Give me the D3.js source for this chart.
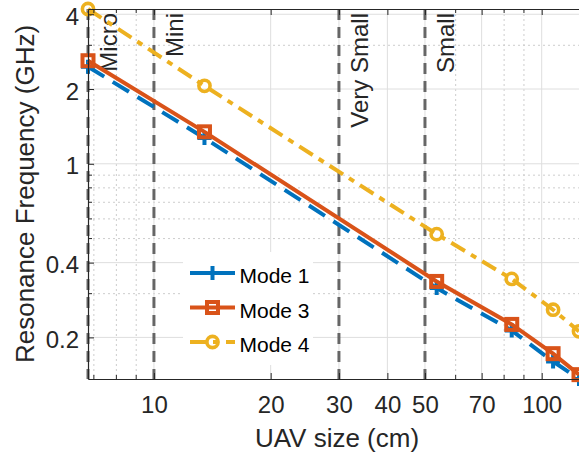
<!DOCTYPE html>
<html>
<head>
<meta charset="utf-8">
<script src="https://cdn.jsdelivr.net/npm/d3@7"></script>
<style>
  body { margin: 0; background: #fff; }
  svg { display: block; font-family: "Liberation Sans", Arial, Helvetica, sans-serif; }
</style>
</head>
<body>
<svg id="chart" width="579" height="455"></svg>
<script>
// UAV size (cm) at which each resonance was evaluated
const sizes = [6.76, 13.5, 53.6, 83.7, 107, 124.8];
// Resonance frequency (GHz) per mode
const mode1 = [2.46, 1.27, 0.316, 0.213, 0.160, 0.136];
const mode3 = [2.60, 1.345, 0.336, 0.2256, 0.172, 0.1416];
const mode4 = [4.20, 2.06, 0.521, 0.344, 0.2585, 0.2115];
const seriesNames = ["Mode 1", "Mode 3", "Mode 4"];

// Size class boundaries (cm) and their names
const classBounds = [6.76, 10, 30, 50];
const classNames = ["Micro", "Mini", "Very Small", "Small"];

// Axis ticks
const xTicks = [10, 20, 30, 40, 50, 70, 100];
const yTicks = [0.2, 0.4, 1, 2, 4];

const margin = { left: 88, right: 579, top: 9, bottom: 379 };
const axisColor = "#262626";

const svg = d3.select("#chart");

const x = d3.scaleLog()
  .domain([sizes[0], sizes[sizes.length - 1]])
  .range([margin.left, margin.right]);
const y = d3.scaleLog()
  .domain([d3.min(mode1), d3.max(mode4)])
  .range([margin.bottom, margin.top]);

// minor log positions (2..9 x decade) inside the domain
function minorTicks(scale, majors) {
  const [lo, hi] = scale.domain();
  const out = [];
  for (let e = Math.floor(Math.log10(lo)); e <= Math.ceil(Math.log10(hi)); e++) {
    for (let k = 1; k <= 9; k++) {
      const v = +(k * Math.pow(10, e)).toPrecision(6);
      if (v >= lo && v <= hi && !majors.some(m => Math.abs(m - v) < 1e-9)) out.push(v);
    }
  }
  return out;
}
const xMinor = minorTicks(x, xTicks);
const yMinor = minorTicks(y, yTicks);

// ---- grid ----
const grid = svg.append("g");
grid.selectAll(".xminor").data(xMinor).join("line")
  .attr("x1", d => x(d)).attr("x2", d => x(d))
  .attr("y1", margin.top).attr("y2", margin.bottom)
  .attr("stroke", "#cdcdcd").attr("stroke-width", 1).attr("stroke-dasharray", "2,3");
grid.selectAll(".yminor").data(yMinor).join("line")
  .attr("x1", margin.left).attr("x2", margin.right)
  .attr("y1", d => y(d)).attr("y2", d => y(d))
  .attr("stroke", "#cdcdcd").attr("stroke-width", 1).attr("stroke-dasharray", "2,3");
grid.selectAll(".xmajor").data(xTicks).join("line")
  .attr("x1", d => x(d)).attr("x2", d => x(d))
  .attr("y1", margin.top).attr("y2", margin.bottom)
  .attr("stroke", "#dedede").attr("stroke-width", 1);
grid.selectAll(".ymajor").data(yTicks).join("line")
  .attr("x1", margin.left).attr("x2", margin.right)
  .attr("y1", d => y(d)).attr("y2", d => y(d))
  .attr("stroke", "#dedede").attr("stroke-width", 1);

// ---- size class separators ----
const classes = svg.append("g");
classes.selectAll("line").data(classBounds).join("line")
  .attr("x1", d => x(d)).attr("x2", d => x(d))
  .attr("y1", margin.top).attr("y2", margin.bottom)
  .attr("stroke", "#4d4d4d").attr("stroke-opacity", 0.85)
  .attr("stroke-width", 3).attr("stroke-dasharray", "11,7");
classes.selectAll("text").data(classBounds).join("text")
  .attr("transform", d => `translate(${x(d) + 29},13) rotate(-90)`)
  .attr("text-anchor", "end")
  .attr("font-size", 24)
  .attr("fill", "#262626")
  .text((d, i) => classNames[i]);

// ---- series ----
const series = [
  { name: seriesNames[0], values: mode1, color: "#0072BD", dash: "19,10", marker: "plus" },
  { name: seriesNames[1], values: mode3, color: "#D95319", dash: null, marker: "square" },
  { name: seriesNames[2], values: mode4, color: "#EDB120", dash: "16,7,6,7", marker: "circle" }
];

function drawMarker(g, type, color) {
  if (type === "plus") {
    g.append("path").attr("d", "M-7,0H7M0,-7V7")
      .attr("stroke", color).attr("stroke-width", 4).attr("fill", "none");
  } else if (type === "square") {
    g.append("rect").attr("x", -5.5).attr("y", -5.5).attr("width", 11).attr("height", 11)
      .attr("stroke", color).attr("stroke-width", 4).attr("fill", "none");
  } else {
    g.append("circle").attr("r", 5.6)
      .attr("stroke", color).attr("stroke-width", 3.6).attr("fill", "none");
  }
}

const line = d3.line().x(d => x(d[0])).y(d => y(d[1]));
series.forEach(s => {
  const pts = sizes.map((v, i) => [v, s.values[i]]);
  const g = svg.append("g");
  g.append("path").datum(pts)
    .attr("d", line)
    .attr("fill", "none")
    .attr("stroke", s.color)
    .attr("stroke-width", 4)
    .attr("stroke-dasharray", s.dash);
  pts.forEach(p => {
    const m = g.append("g").attr("transform", `translate(${x(p[0])},${y(p[1])})`);
    drawMarker(m, s.marker, s.color);
  });
});

// ---- axes ----
const fmt = d => String(d);
const xAxis = svg.append("g").attr("transform", `translate(0,${margin.bottom})`)
  .call(d3.axisBottom(x).tickValues(xTicks).tickFormat(fmt)
    .tickSize(-6).tickSizeOuter(0).tickPadding(17));
const xAxisTop = svg.append("g").attr("transform", `translate(0,${margin.top})`)
  .call(d3.axisTop(x).tickValues(xTicks).tickFormat("")
    .tickSize(-6).tickSizeOuter(0));
const yAxis = svg.append("g").attr("transform", `translate(${margin.left},0)`)
  .call(d3.axisLeft(y).tickValues(yTicks).tickFormat(fmt)
    .tickSize(-6).tickSizeOuter(0).tickPadding(9));

[xAxis, xAxisTop, yAxis].forEach(a => {
  a.select(".domain").attr("stroke", axisColor).attr("stroke-width", 1.2);
  a.selectAll(".tick line").attr("stroke", axisColor).attr("stroke-width", 1);
  a.selectAll(".tick text").attr("fill", axisColor).attr("font-size", 24)
    .attr("font-family", "Liberation Sans, Arial, Helvetica, sans-serif");
});
yAxis.selectAll(".tick text").attr("dy", "0.42em");

// minor ticks
const minorG = svg.append("g").attr("stroke", axisColor).attr("stroke-width", 1);
xMinor.forEach(v => {
  minorG.append("line").attr("x1", x(v)).attr("x2", x(v)).attr("y1", margin.bottom).attr("y2", margin.bottom - 4);
  minorG.append("line").attr("x1", x(v)).attr("x2", x(v)).attr("y1", margin.top).attr("y2", margin.top + 4);
});
yMinor.forEach(v => {
  minorG.append("line").attr("x1", margin.left).attr("x2", margin.left + 4).attr("y1", y(v)).attr("y2", y(v));
});

// ---- axis labels ----
svg.append("text")
  .attr("x", 337).attr("y", 447)
  .attr("text-anchor", "middle")
  .attr("font-size", 26).attr("fill", axisColor)
  .text("UAV size (cm)");
svg.append("text")
  .attr("transform", "translate(34,194) rotate(-90)")
  .attr("text-anchor", "middle")
  .attr("font-size", 26).attr("fill", axisColor)
  .text("Resonance Frequency (GHz)");

// ---- legend ----
const legend = svg.append("g");
legend.append("rect")
  .attr("x", 183).attr("y", 252).attr("width", 130).attr("height", 113)
  .attr("fill", "#fff");
series.forEach((s, i) => {
  const ly = 273 + i * 34.5;
  const g = legend.append("g");
  g.append("line")
    .attr("x1", 190).attr("x2", 235).attr("y1", ly).attr("y2", ly)
    .attr("stroke", s.color).attr("stroke-width", 4)
    .attr("stroke-dasharray", s.dash);
  const m = g.append("g").attr("transform", `translate(212.5,${ly})`);
  drawMarker(m, s.marker, s.color);
  g.append("text")
    .attr("x", 239.5).attr("y", ly + 10)
    .attr("font-size", 21).attr("fill", "#000")
    .text(s.name);
});
</script>
</body>
</html>
